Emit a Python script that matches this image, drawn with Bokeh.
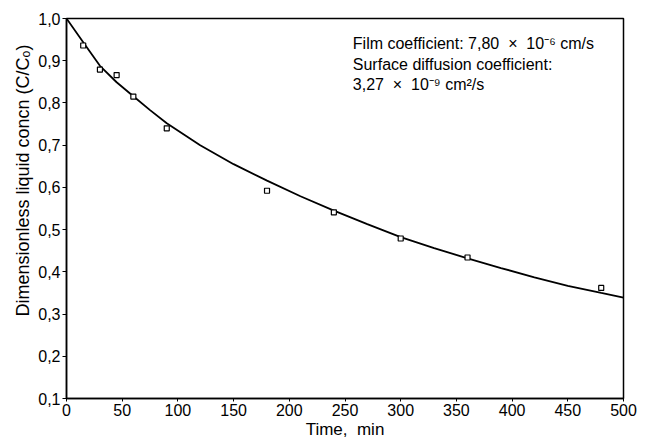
from bokeh.plotting import figure
from bokeh.models import FixedTicker, CustomJSTickFormatter, Label, Range1d, Title
from bokeh.embed import file_html
from bokeh.resources import INLINE

# measured data points
t_obs = [15, 30, 45, 60, 90, 180, 240, 300, 360, 480]
c_obs = [0.936, 0.879, 0.866, 0.815, 0.740, 0.592, 0.541, 0.479, 0.434, 0.362]

# model curve
t_fit = [0, 15, 30, 45, 60, 75, 90, 120, 150, 180, 210, 240, 270, 300, 330, 360, 390, 420, 450, 480, 500]
c_fit = [1.0, 0.944, 0.888, 0.849, 0.816, 0.783, 0.752, 0.700, 0.655, 0.616, 0.579, 0.545,
         0.513, 0.482, 0.456, 0.432, 0.409, 0.387, 0.367, 0.350, 0.339]

x_ticks = [0, 50, 100, 150, 200, 250, 300, 350, 400, 450, 500]
y_ticks = [0.1, 0.2, 0.3, 0.4, 0.5, 0.6, 0.7, 0.8, 0.9, 1.0]

NB = "\u00a0"
notes = ["Film coefficient: 7,80 " + NB + "\u00d7" + NB + " 10\u207b\u2076 cm/s",
         "Surface diffusion coefficient:",
         "3,27 " + NB + "\u00d7" + NB + " 10\u207b\u2079 cm\u00b2/s"]
note_y = [0.941, 0.892, 0.844]
note_x = 257

x_title = "Time," + NB + " min"
y_title = "Dimensionless liquid concn (C/C\u2092)"

FONT = "Liberation Sans"

p = figure(width=648, height=441, output_backend="svg", toolbar_location=None,
           x_range=Range1d(0, 500), y_range=Range1d(0.1, 1.0),
           min_border_left=66, min_border_right=25, min_border_top=18, min_border_bottom=41)

p.background_fill_color = "white"
p.border_fill_color = "white"
p.outline_line_color = "black"
p.outline_line_width = 1.5
p.grid.visible = False

p.line(t_fit, c_fit, line_color="black", line_width=1.8)
p.scatter(t_obs, c_obs, marker="square", size=5, fill_color="white",
          line_color="black", line_width=1.2)

p.xaxis.ticker = FixedTicker(ticks=x_ticks)
p.yaxis.ticker = FixedTicker(ticks=y_ticks)
p.yaxis.formatter = CustomJSTickFormatter(code="return tick.toFixed(1).replace('.', ',');")

for ax in (p.xaxis[0], p.yaxis[0]):
    ax.axis_line_color = "black"
    ax.axis_line_width = 1.5
    ax.major_tick_line_color = "black"
    ax.minor_tick_line_color = None
    ax.major_tick_in = 0
    ax.major_label_text_font = FONT
    ax.major_label_text_font_size = "16px"
    ax.major_label_text_color = "black"
    ax.axis_label_text_font = FONT
    ax.axis_label_text_font_size = "17px"
    ax.axis_label_text_font_style = "normal"
    ax.axis_label_text_color = "black"

p.xaxis.major_tick_out = 3
p.xaxis.major_label_standoff = 2
p.xaxis.axis_label_standoff = 1
p.xaxis.axis_label = x_title

p.yaxis.major_tick_out = 4
p.yaxis.major_label_standoff = 2

# y title as a side title so it can sit above the frame centre, as in the reference
p.add_layout(Title(text=y_title, align="left", offset=82, standoff=6,
                   text_font=FONT, text_font_size="18px", text_font_style="normal",
                   text_color="black"), "left")

for txt, yy in zip(notes, note_y):
    p.add_layout(Label(x=note_x, y=yy, text=txt, text_font=FONT, text_font_size="16px",
                       text_baseline="middle", text_color="black"))

open("out.html", "w").write(file_html(p, INLINE))
